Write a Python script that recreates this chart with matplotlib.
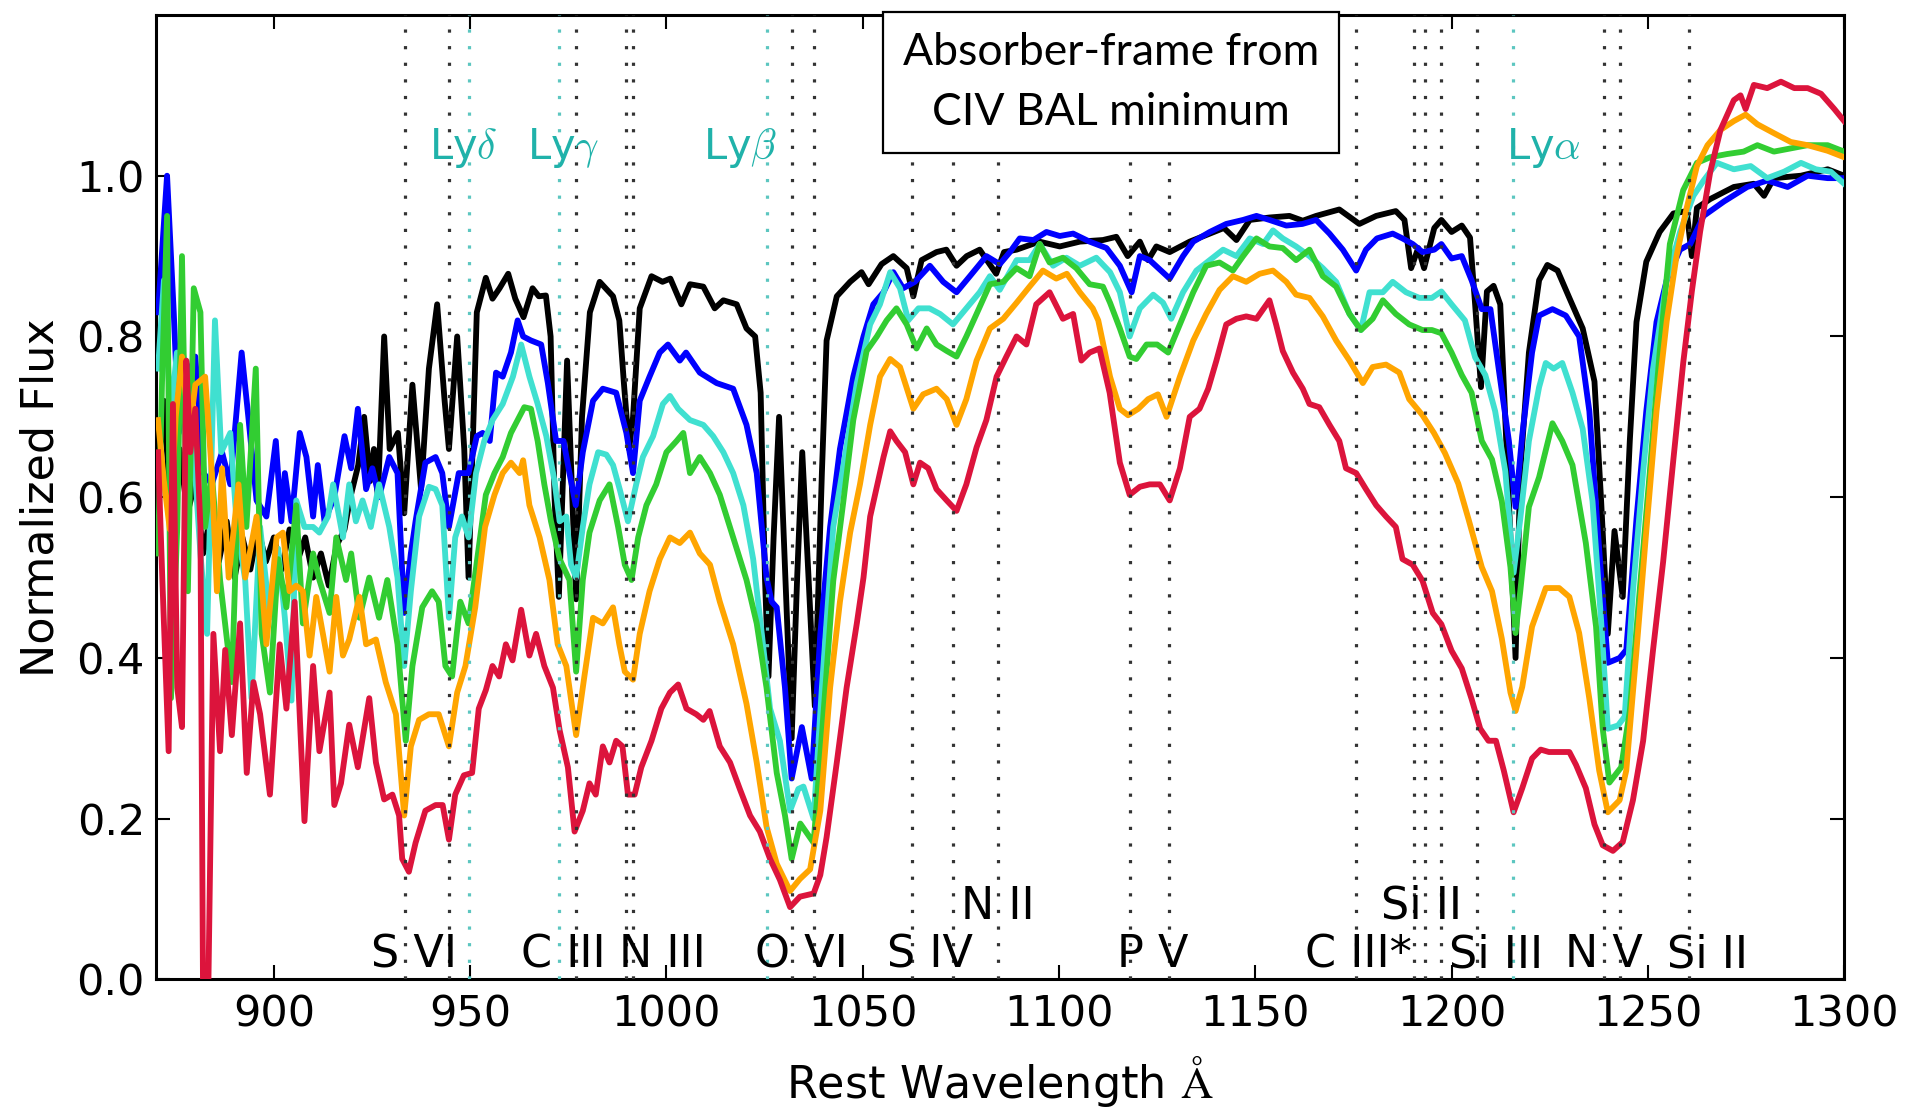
import matplotlib
matplotlib.use('Agg')
import matplotlib.pyplot as plt

# ---------------- data ----------------
wave_black = [870, 872, 874, 876, 878, 880, 882, 884, 886, 888, 890, 892, 894, 896, 898, 900, 902, 904, 906, 908,
              910, 912, 914, 916, 918, 919.5, 921.5, 923, 924.5, 925.5, 926.5, 928.1, 929.5, 931.6, 933.2, 935.3,
              937.5, 939.5, 941.6, 943.5, 944.6, 946.7, 948.5, 949.6, 951.7, 954, 955.7, 957.5, 959.7, 961.5, 963.6,
              965.9, 967.5, 969.3, 970.5, 971.5, 972.6, 974.7, 977.0, 978.5, 980.5, 983.0, 984.5, 986.4, 988, 989.2,
              990.5, 991.5, 993.2, 996.2, 999, 1001, 1003.8, 1006, 1009.4, 1012.3, 1014.5, 1017.9, 1020.4, 1022.6,
              1024, 1025.1, 1026, 1027.3, 1028.7, 1030.3, 1031.9, 1033.3, 1034.6, 1036.2, 1037.8, 1039.6, 1040.8,
              1043.4, 1046.8, 1049.7, 1051.5, 1054.8, 1057.8, 1061.2, 1062.9, 1065, 1068.8, 1071.3, 1073.9, 1076.5,
              1079.8, 1084, 1086, 1089.2, 1095, 1100.2, 1105.3, 1111.2, 1114.6, 1117.5, 1120.6, 1122.7, 1124.8,
              1128.2, 1133.3, 1138.4, 1142, 1145.2, 1148.6, 1153.6, 1158.7, 1162.1, 1165.5, 1171.4, 1176.5, 1180.8,
              1185.8, 1188, 1189.7, 1191.5, 1193, 1195.6, 1197.4, 1200, 1202.6, 1204.7, 1206, 1207.5, 1209, 1210.7,
              1212.4, 1214.6, 1216.3, 1217.5, 1219.7, 1222.3, 1224.4, 1227, 1230, 1233.4, 1236.4, 1238.1, 1239.8,
              1241.5, 1243.6, 1245.4, 1247.1, 1249.6, 1253, 1256.5, 1259.9, 1261.2, 1262.5, 1265.9, 1271.9, 1277,
              1279.6, 1282.1, 1289, 1295.8, 1300]
flux_black = [0.60, 0.72, 0.56, 0.66, 0.58, 0.62, 0.53, 0.58, 0.52, 0.57, 0.50, 0.55, 0.51, 0.56, 0.52, 0.55, 0.51,
              0.56, 0.52, 0.55, 0.50, 0.53, 0.49, 0.54, 0.56, 0.60, 0.64, 0.70, 0.62, 0.66, 0.60, 0.80, 0.66, 0.68,
              0.58, 0.74, 0.61, 0.76, 0.84, 0.72, 0.66, 0.80, 0.66, 0.50, 0.83, 0.873, 0.847, 0.86, 0.878, 0.847,
              0.824, 0.86, 0.85, 0.851, 0.80, 0.60, 0.476, 0.77, 0.473, 0.70, 0.83, 0.868, 0.86, 0.85, 0.82, 0.74,
              0.66, 0.70, 0.835, 0.875, 0.868, 0.872, 0.84, 0.865, 0.862, 0.835, 0.845, 0.84, 0.81, 0.80, 0.73, 0.50,
              0.377, 0.55, 0.70, 0.50, 0.30, 0.50, 0.656, 0.50, 0.34, 0.63, 0.795, 0.85, 0.868, 0.88, 0.865, 0.89,
              0.90, 0.885, 0.85, 0.895, 0.905, 0.908, 0.888, 0.90, 0.908, 0.878, 0.905, 0.908, 0.918, 0.912, 0.918,
              0.92, 0.924, 0.90, 0.918, 0.895, 0.912, 0.905, 0.918, 0.928, 0.935, 0.92, 0.945, 0.948, 0.95, 0.944,
              0.95, 0.958, 0.94, 0.95, 0.956, 0.945, 0.885, 0.91, 0.885, 0.935, 0.945, 0.93, 0.938, 0.923, 0.84,
              0.737, 0.856, 0.863, 0.84, 0.595, 0.40, 0.632, 0.78, 0.87, 0.889, 0.882, 0.848, 0.81, 0.744, 0.595,
              0.43, 0.558, 0.476, 0.67, 0.818, 0.893, 0.93, 0.953, 0.956, 0.90, 0.96, 0.971, 0.986, 0.99, 0.975,
              0.997, 1.0, 1.008, 1.0]

wave_blue = [870.5, 872.8, 874.5, 875.8, 877.9, 880, 882.1, 884.2, 886.8, 888.9, 891.8, 893.5, 895.6, 898.1, 900.5,
             901.9, 902.8, 904.5, 906.6, 908.3, 910, 911.2, 912.9, 915.4, 918, 919.7, 921.4, 923.5, 925.1, 926.8,
             929.4, 931.5, 933.2, 934.9, 936.1, 938.6, 941.2, 942.9, 944.6, 947.1, 949.6, 951.7, 953.2, 955, 956.6,
             958.3, 960.4, 962.1, 963.5, 965.5, 968.1, 969.8, 971.9, 973.8, 975.3, 976.9, 978.7, 981.3, 983.8,
             987.2, 989.8, 991.5, 993.2, 995.7, 998.3, 1000.4, 1003.4, 1005, 1008.5, 1012.8, 1017, 1020.4, 1023,
             1025.5, 1026.8, 1028.1, 1030.2, 1031.9, 1034.5, 1037, 1039.2, 1041.7, 1044.2, 1047.6, 1050.2, 1052.7,
             1055.3, 1057.8, 1060.3, 1063.3, 1067.1, 1070.5, 1073.9, 1077.3, 1081.5, 1084.9, 1087.5, 1090, 1093.5,
             1096.8, 1100.2, 1103.6, 1107.8, 1112.1, 1115.5, 1118.5, 1120.6, 1123.1, 1125.3, 1128.2, 1131.6, 1134.2,
             1138.4, 1142.6, 1146.9, 1150.3, 1153.6, 1157.9, 1162, 1165.5, 1168.9, 1172.3, 1175.7, 1178.2, 1181,
             1185, 1187.5, 1190.1, 1192.6, 1195.6, 1197.4, 1200, 1202.6, 1205.1, 1207.7, 1209.9, 1212, 1214.6,
             1216.3, 1218, 1220.5, 1222.3, 1225.7, 1229.1, 1232.5, 1235.1, 1237.6, 1239.8, 1242.8, 1244.5, 1247.1,
             1249.6, 1252.2, 1254.8, 1258.2, 1260.8, 1264.2, 1269.4, 1275.3, 1280.4, 1285.6, 1290.7, 1295.8, 1300]
flux_blue = [0.83, 1.0, 0.83, 0.68, 0.75, 0.775, 0.63, 0.616, 0.656, 0.616, 0.78, 0.70, 0.596, 0.576, 0.67, 0.57,
             0.63, 0.57, 0.68, 0.65, 0.576, 0.64, 0.57, 0.60, 0.676, 0.636, 0.71, 0.61, 0.636, 0.60, 0.65, 0.63,
             0.456, 0.53, 0.57, 0.643, 0.65, 0.63, 0.563, 0.63, 0.63, 0.676, 0.68, 0.67, 0.755, 0.75, 0.78, 0.82,
             0.80, 0.795, 0.79, 0.742, 0.67, 0.67, 0.63, 0.59, 0.656, 0.72, 0.735, 0.73, 0.68, 0.63, 0.72, 0.75,
             0.78, 0.79, 0.77, 0.78, 0.755, 0.742, 0.735, 0.69, 0.63, 0.50, 0.47, 0.463, 0.363, 0.25, 0.314, 0.25,
             0.43, 0.563, 0.66, 0.75, 0.80, 0.84, 0.855, 0.88, 0.86, 0.868, 0.888, 0.868, 0.855, 0.875, 0.90, 0.89,
             0.905, 0.922, 0.92, 0.93, 0.925, 0.928, 0.918, 0.91, 0.888, 0.855, 0.90, 0.895, 0.885, 0.872, 0.90,
             0.918, 0.93, 0.94, 0.945, 0.95, 0.945, 0.938, 0.94, 0.945, 0.928, 0.908, 0.882, 0.908, 0.922, 0.928,
             0.922, 0.915, 0.905, 0.908, 0.915, 0.897, 0.90, 0.87, 0.834, 0.834, 0.76, 0.67, 0.588, 0.677, 0.78,
             0.826, 0.834, 0.826, 0.80, 0.707, 0.535, 0.394, 0.40, 0.41, 0.573, 0.707, 0.818, 0.87, 0.908, 0.915,
             0.95, 0.968, 0.986, 0.994, 0.986, 1.0, 0.997, 0.997]

wave_turq = [870.5, 872, 873.7, 875.3, 877, 879, 881.3, 883, 885, 886.6, 888.9, 890.6, 892.7, 894.3, 896.5, 899,
             901.1, 902.8, 904.5, 905.7, 907.8, 910, 911.6, 913.8, 915.1, 917.6, 919.2, 920.9, 922.6, 924.7, 926.8,
             929.4, 931.5, 933.2, 934.9, 937, 939.5, 941.2, 942.9, 944.6, 946.2, 947.9, 949.6, 951.5, 953.6, 955.7,
             958.3, 960.9, 963, 965.1, 967.2, 969.4, 971.5, 972.8, 974.5, 975.7, 977, 978.7, 980.4, 982.6, 984.7,
             986.4, 988.1, 990.2, 992.3, 994, 996.6, 999.1, 1000.9, 1003, 1006, 1009.4, 1011.9, 1014.5, 1017,
             1019.6, 1022.1, 1024.3, 1026.4, 1028.9, 1031.5, 1033.6, 1034.9, 1037.5, 1039.6, 1042.5, 1045.1, 1048.5,
             1051.9, 1054.4, 1057, 1059.5, 1061.6, 1064.2, 1067, 1069.7, 1073, 1076.4, 1079.8, 1082.4, 1084.9,
             1089.2, 1092.5, 1095.1, 1098.5, 1101.9, 1105.3, 1109.5, 1113, 1115.5, 1118, 1120.6, 1124, 1126.5,
             1128.6, 1131.6, 1135, 1138.4, 1141.8, 1145.2, 1148.6, 1152, 1154.5, 1157, 1160.4, 1163.8, 1167.2,
             1170.6, 1174, 1176.9, 1179.1, 1182.5, 1185, 1188.4, 1191.8, 1195, 1197.4, 1200, 1203.4, 1206, 1208.6,
             1211.1, 1213.7, 1215.8, 1217.5, 1219.7, 1222.3, 1224, 1226, 1228.2, 1230.8, 1233.4, 1235.9, 1238.1,
             1239.8, 1242.4, 1244.1, 1246.2, 1248.8, 1251.3, 1254.8, 1258.2, 1261.6, 1264.2, 1267.6, 1271.9,
             1276.2, 1280.4, 1284.7, 1289, 1292.8, 1296.6, 1300]
flux_turq = [0.76, 0.87, 0.70, 0.78, 0.775, 0.70, 0.53, 0.43, 0.82, 0.656, 0.68, 0.563, 0.497, 0.35, 0.563, 0.45,
             0.536, 0.45, 0.347, 0.596, 0.563, 0.563, 0.556, 0.576, 0.616, 0.55, 0.616, 0.57, 0.596, 0.563, 0.616,
             0.563, 0.50, 0.39, 0.483, 0.576, 0.613, 0.61, 0.59, 0.45, 0.55, 0.576, 0.55, 0.63, 0.67, 0.696, 0.716,
             0.75, 0.79, 0.75, 0.716, 0.676, 0.62, 0.57, 0.576, 0.516, 0.50, 0.563, 0.616, 0.656, 0.653, 0.64, 0.61,
             0.57, 0.616, 0.65, 0.676, 0.716, 0.726, 0.71, 0.696, 0.69, 0.676, 0.656, 0.63, 0.59, 0.523, 0.43, 0.337,
             0.297, 0.21, 0.237, 0.24, 0.20, 0.363, 0.563, 0.64, 0.742, 0.815, 0.84, 0.88, 0.86, 0.82, 0.835, 0.835,
             0.828, 0.815, 0.835, 0.855, 0.875, 0.858, 0.895, 0.895, 0.915, 0.888, 0.898, 0.888, 0.898, 0.88, 0.855,
             0.80, 0.835, 0.852, 0.842, 0.822, 0.855, 0.882, 0.895, 0.908, 0.90, 0.922, 0.915, 0.932, 0.922, 0.912,
             0.90, 0.885, 0.868, 0.828, 0.808, 0.855, 0.855, 0.868, 0.855, 0.848, 0.848, 0.856, 0.84, 0.82, 0.774,
             0.752, 0.707, 0.632, 0.506, 0.573, 0.67, 0.737, 0.767, 0.76, 0.767, 0.73, 0.685, 0.595, 0.446, 0.312,
             0.316, 0.327, 0.483, 0.632, 0.759, 0.87, 0.93, 0.975, 0.994, 1.016, 1.008, 1.012, 0.997, 1.005, 1.016,
             1.008, 1.005, 0.99]

wave_green = [870.5, 871.6, 872.8, 873.8, 875.4, 876.6, 878.1, 879.6, 881.3, 882.5, 884.2, 886.3, 889.3, 891.4,
              893, 895.4, 896.9, 899, 901.1, 903.2, 905.7, 907.4, 910, 911.6, 914.2, 915.9, 918.4, 919.7, 921.8,
              924.3, 926.8, 928.9, 931.5, 933.6, 935.3, 937.8, 940.3, 942, 943.7, 945.4, 947.5, 949.6, 952, 954,
              956.2, 958.3, 960.4, 962.1, 963.8, 965.5, 967.2, 968.9, 970.6, 972.8, 975.3, 977, 978.7, 980.4, 983,
              985.5, 987.7, 989.4, 991.1, 992.8, 994.9, 997.4, 1000, 1002.6, 1004.3, 1006, 1008.5, 1011.1, 1013.6,
              1017, 1020.4, 1023, 1025.5, 1028.1, 1030.2, 1031.9, 1034.1, 1037.5, 1040, 1042.5, 1045.1, 1047.6,
              1051, 1053.6, 1056.1, 1058.6, 1061.2, 1063.7, 1066.3, 1068.8, 1071.4, 1073.9, 1076.4, 1079, 1082.4,
              1085.8, 1089.2, 1092.5, 1095.1, 1097.6, 1101, 1104.4, 1107.8, 1111.2, 1113, 1115.5, 1118, 1119.7,
              1122.3, 1125, 1127.8, 1130.8, 1134.2, 1137.5, 1140.9, 1144.3, 1146.9, 1150.3, 1153.6, 1157, 1160.4,
              1163.8, 1167.2, 1170.6, 1174, 1176.9, 1179.9, 1182.5, 1185.8, 1189.2, 1192.6, 1195, 1197.4, 1200,
              1202.6, 1205.1, 1207.7, 1210.3, 1212.8, 1215, 1216.3, 1217.5, 1219.7, 1222.3, 1225.7, 1228.2, 1230.8,
              1234.2, 1236.8, 1238.5, 1240.2, 1243.2, 1245.4, 1247.9, 1250.5, 1253, 1255.6, 1259, 1262.5, 1265.9,
              1270.2, 1274.4, 1277.9, 1282.1, 1286.4, 1290.7, 1295.8, 1300]
flux_green = [0.53, 0.76, 0.95, 0.35, 0.563, 0.90, 0.483, 0.86, 0.83, 0.563, 0.63, 0.497, 0.37, 0.69, 0.563, 0.76,
              0.43, 0.357, 0.523, 0.463, 0.59, 0.443, 0.53, 0.497, 0.456, 0.55, 0.497, 0.53, 0.45, 0.50, 0.45, 0.497,
              0.417, 0.297, 0.39, 0.463, 0.483, 0.47, 0.39, 0.377, 0.47, 0.443, 0.53, 0.603, 0.63, 0.65, 0.68, 0.696,
              0.712, 0.71, 0.67, 0.616, 0.57, 0.523, 0.497, 0.383, 0.497, 0.556, 0.596, 0.616, 0.563, 0.516, 0.497,
              0.55, 0.59, 0.616, 0.656, 0.67, 0.68, 0.63, 0.65, 0.63, 0.603, 0.55, 0.497, 0.443, 0.363, 0.257, 0.204,
              0.15, 0.194, 0.17, 0.33, 0.496, 0.596, 0.696, 0.782, 0.80, 0.82, 0.835, 0.815, 0.785, 0.81, 0.79, 0.782,
              0.775, 0.80, 0.828, 0.865, 0.868, 0.885, 0.875, 0.915, 0.892, 0.898, 0.885, 0.865, 0.862, 0.842, 0.81,
              0.775, 0.772, 0.79, 0.79, 0.78, 0.815, 0.855, 0.888, 0.892, 0.882, 0.90, 0.922, 0.912, 0.91, 0.895,
              0.908, 0.875, 0.862, 0.828, 0.808, 0.822, 0.845, 0.828, 0.815, 0.808, 0.808, 0.804, 0.78, 0.752, 0.73,
              0.67, 0.647, 0.595, 0.513, 0.431, 0.483, 0.588, 0.625, 0.692, 0.67, 0.64, 0.543, 0.439, 0.312, 0.245,
              0.264, 0.334, 0.483, 0.632, 0.78, 0.915, 0.982, 1.016, 1.023, 1.027, 1.03, 1.038, 1.03, 1.034, 1.038,
              1.038, 1.03]

wave_orange = [870.5, 872, 873.5, 875, 876.6, 878.5, 880, 882.5, 884.2, 885.5, 886.8, 888.5, 891, 892.7, 895.6,
               898.1, 900.7, 902.3, 904, 905.7, 907.4, 909.1, 910.8, 912.5, 914.2, 915.9, 917.6, 919.2, 921.8,
               923.5, 926, 928.5, 931.1, 933.2, 934.9, 937, 939.5, 942, 944.6, 946.7, 948.8, 951.3, 953.8, 956.2,
               958.3, 960.4, 962.6, 963.5, 965.1, 967.7, 970.2, 972.3, 974.5, 977, 979.1, 981.3, 983.8, 986.4, 988,
               989.4, 991.5, 993.2, 995.7, 998.3, 1000.9, 1003.4, 1006, 1008.5, 1011.1, 1013.6, 1017, 1020.4, 1023,
               1025.5, 1028.1, 1031.5, 1034, 1036.6, 1039.2, 1041.7, 1044.2, 1046.8, 1049.3, 1051.9, 1054.4, 1057,
               1059.5, 1062.9, 1065.4, 1068.8, 1071.4, 1073.9, 1076.4, 1079, 1082.4, 1085.8, 1089.2, 1092.5, 1095.9,
               1099.3, 1102, 1105.3, 1108.6, 1110, 1113, 1115.5, 1117.6, 1120.2, 1122.7, 1125.2, 1127.4, 1130.8,
               1134.2, 1137.5, 1140.9, 1144.3, 1147.7, 1151.1, 1154.5, 1157.9, 1160.4, 1163.8, 1167.2, 1170.6, 1174,
               1177.4, 1179.9, 1183.3, 1186.7, 1189.2, 1192.6, 1195.5, 1198.3, 1201.7, 1204.3, 1207.7, 1210.3,
               1212.8, 1215, 1216.3, 1218, 1220.5, 1224, 1227.4, 1230, 1232.5, 1235.1, 1237.6, 1239.8, 1242.8,
               1244.5, 1247.1, 1249.6, 1252.2, 1254.8, 1257.3, 1259.9, 1262.5, 1265.2, 1268.5, 1271.9, 1274.9,
               1277.9, 1282.1, 1286.4, 1290.7, 1295.8, 1300]
flux_orange = [0.696, 0.62, 0.56, 0.70, 0.775, 0.68, 0.74, 0.75, 0.63, 0.483, 0.636, 0.50, 0.616, 0.50, 0.576, 0.417,
               0.55, 0.556, 0.483, 0.49, 0.483, 0.403, 0.476, 0.43, 0.383, 0.476, 0.403, 0.423, 0.476, 0.417, 0.423,
               0.37, 0.33, 0.204, 0.29, 0.323, 0.33, 0.33, 0.29, 0.357, 0.39, 0.463, 0.563, 0.603, 0.63, 0.643, 0.63,
               0.646, 0.59, 0.55, 0.497, 0.417, 0.39, 0.304, 0.377, 0.45, 0.443, 0.463, 0.417, 0.383, 0.373, 0.43,
               0.483, 0.523, 0.55, 0.543, 0.556, 0.53, 0.516, 0.47, 0.417, 0.343, 0.27, 0.19, 0.144, 0.11, 0.125,
               0.137, 0.21, 0.363, 0.47, 0.556, 0.616, 0.69, 0.75, 0.772, 0.762, 0.71, 0.728, 0.735, 0.722, 0.69,
               0.722, 0.77, 0.81, 0.822, 0.842, 0.862, 0.882, 0.872, 0.878, 0.855, 0.835, 0.82, 0.75, 0.71, 0.702,
               0.71, 0.722, 0.728, 0.70, 0.75, 0.795, 0.828, 0.858, 0.875, 0.868, 0.878, 0.882, 0.868, 0.852, 0.848,
               0.825, 0.795, 0.77, 0.742, 0.762, 0.765, 0.755, 0.722, 0.702, 0.68, 0.655, 0.617, 0.573, 0.513, 0.483,
               0.424, 0.357, 0.334, 0.364, 0.439, 0.487, 0.487, 0.476, 0.431, 0.349, 0.26, 0.208, 0.223, 0.26, 0.409,
               0.558, 0.707, 0.819, 0.90, 0.96, 1.012, 1.038, 1.057, 1.068, 1.076, 1.064, 1.053, 1.042, 1.038, 1.031,
               1.023]

wave_red = [870.5, 871.6, 873.2, 874.3, 875.4, 876.6, 877.7, 878.7, 880, 881.3, 882.0, 883.2, 884.6, 886.3, 887.6,
            889.3, 891.4, 893.1, 894.8, 896.5, 899, 901.5, 903.2, 905.3, 907.8, 910, 911.6, 914.2, 915.4, 917.1,
            919.2, 921.4, 924.3, 926, 928.1, 930.2, 931.9, 932.7, 934.4, 936.1, 938.6, 941.2, 943, 944.6, 946.2,
            948.4, 950.5, 952.2, 954, 955.7, 957.4, 959.1, 960.8, 963, 965.1, 966.8, 968.9, 971.1, 972.8, 974.9,
            976.6, 978.7, 980.4, 982, 983.8, 985.5, 987.2, 988.8, 990.2, 991.9, 993.6, 996.2, 998.7, 1000.9, 1003,
            1005.1, 1007.6, 1009.4, 1011, 1013.6, 1016.2, 1018.7, 1021.3, 1023.8, 1026.4, 1028.9, 1031.5, 1034,
            1037.5, 1039.2, 1040.8, 1043.4, 1045.9, 1048.5, 1050.2, 1051.9, 1053.6, 1055.3, 1057, 1058.6, 1060.8,
            1062.9, 1064.6, 1066.7, 1068.8, 1071.4, 1073.9, 1076.4, 1079, 1081.5, 1084.1, 1086.6, 1089.2, 1091.7,
            1094.2, 1097.6, 1101, 1103.6, 1105.7, 1107.8, 1110.3, 1112.9, 1115.5, 1118, 1120.6, 1123.1, 1125.7,
            1128.2, 1130.8, 1133.3, 1135.8, 1138, 1140.1, 1142.6, 1145.2, 1147.7, 1150.3, 1153.6, 1155.3, 1157,
            1159.6, 1162.1, 1163.8, 1166.3, 1168.9, 1171.4, 1173.1, 1175.7, 1178.2, 1180.8, 1183.3, 1185.8, 1187.5,
            1190.1, 1192.6, 1195.2, 1197.4, 1200, 1202.6, 1205.1, 1207.3, 1209.4, 1211.3, 1213.3, 1215.8, 1218,
            1220.5, 1222.7, 1224.8, 1227.4, 1230, 1231.7, 1234.2, 1236.4, 1238.5, 1241.1, 1243.6, 1246.2, 1248.8,
            1251.3, 1253.9, 1256.5, 1259, 1261.2, 1263.3, 1265.9, 1268.5, 1271.9, 1273.6, 1274.9, 1277, 1280.4,
            1283.9, 1287.3, 1290.7, 1294.1, 1297.5, 1300]
flux_red = [0.656, 0.497, 0.284, 0.716, 0.363, 0.314, 0.77, 0.656, 0.71, 0.563, -0.05, -0.05, 0.43, 0.284, 0.41,
            0.304, 0.443, 0.257, 0.37, 0.33, 0.23, 0.417, 0.337, 0.47, 0.197, 0.39, 0.284, 0.357, 0.217, 0.244,
            0.317, 0.264, 0.35, 0.27, 0.224, 0.23, 0.204, 0.15, 0.134, 0.17, 0.21, 0.217, 0.217, 0.174, 0.23, 0.254,
            0.257, 0.337, 0.36, 0.39, 0.377, 0.417, 0.397, 0.46, 0.403, 0.43, 0.39, 0.363, 0.31, 0.264, 0.184,
            0.21, 0.244, 0.23, 0.29, 0.27, 0.297, 0.29, 0.23, 0.23, 0.264, 0.297, 0.337, 0.357, 0.367, 0.337, 0.33,
            0.323, 0.334, 0.29, 0.27, 0.237, 0.204, 0.184, 0.15, 0.124, 0.09, 0.103, 0.107, 0.13, 0.177, 0.27,
            0.363, 0.443, 0.50, 0.576, 0.613, 0.65, 0.682, 0.67, 0.656, 0.616, 0.643, 0.636, 0.61, 0.596, 0.583,
            0.616, 0.662, 0.696, 0.75, 0.775, 0.80, 0.79, 0.84, 0.855, 0.822, 0.828, 0.77, 0.78, 0.785, 0.73,
            0.643, 0.603, 0.613, 0.616, 0.616, 0.596, 0.636, 0.70, 0.71, 0.735, 0.77, 0.815, 0.822, 0.825, 0.822,
            0.845, 0.815, 0.782, 0.755, 0.735, 0.716, 0.712, 0.69, 0.67, 0.636, 0.63, 0.61, 0.59, 0.576, 0.563,
            0.523, 0.516, 0.496, 0.456, 0.442, 0.409, 0.387, 0.349, 0.312, 0.297, 0.297, 0.26, 0.208, 0.238, 0.275,
            0.286, 0.283, 0.283, 0.283, 0.267, 0.238, 0.193, 0.167, 0.16, 0.171, 0.223, 0.297, 0.409, 0.52, 0.647,
            0.767, 0.856, 0.93, 1.005, 1.057, 1.094, 1.10, 1.083, 1.113, 1.109, 1.117, 1.109, 1.109, 1.102, 1.083,
            1.068]

metal_lines = [933.38, 944.52, 977.02, 989.80, 991.51, 1031.93, 1037.62, 1062.66, 1072.97, 1084.5, 1117.98,
               1128.01, 1175.7, 1190.42, 1193.29, 1197.39, 1206.5, 1238.82, 1242.80, 1260.42]
lyman_lines = [949.74, 972.54, 1025.72, 1215.67]

ion_labels = ['S VI', 'C III', 'N III', 'O VI', 'S IV', 'N II', 'P V', 'C III*', 'Si II', 'Si III', 'N V', 'Si II']
ion_label_x = [935.8, 973.8, 999.0, 1034.3, 1067.2, 1084.3, 1123.8, 1176.4, 1192.3, 1211.4, 1238.9, 1265.1]
ion_label_y = [0.031, 0.031, 0.031, 0.031, 0.031, 0.091, 0.031, 0.031, 0.091, 0.031, 0.031, 0.031]

lyman_labels = [r'Ly$\delta$', r'Ly$\gamma$', r'Ly$\beta$', r'Ly$\alpha$']
lyman_label_x = [948.2, 973.8, 1018.7, 1223.3]

series = [(wave_black, flux_black, 'black'),
          (wave_blue, flux_blue, '#0000FF'),
          (wave_turq, flux_turq, '#40E0D0'),
          (wave_green, flux_green, '#32CD32'),
          (wave_orange, flux_orange, '#FFA500'),
          (wave_red, flux_red, '#DC143C')]

# ---------------- figure ----------------
plt.rcParams['font.family'] = ['DejaVu Sans']
plt.rcParams['mathtext.fontset'] = 'cm'

fig = plt.figure(figsize=(19.15, 11.09), dpi=100)
ax = fig.add_axes([0.0815, 0.1168, 0.8815, 0.8697])

for w, f, c in series:
    ax.plot(w, f, color=c, lw=4.2, solid_joinstyle='round', zorder=3)

for w in metal_lines:
    ax.axvline(w, color='#333333', ls=(0, (1, 4.2)), lw=2.3, zorder=4)
for w in lyman_lines:
    ax.axvline(w, color='#5CC6C0', ls=(0, (1, 4.2)), lw=2.3, zorder=4)

for t, x, y in zip(ion_labels, ion_label_x, ion_label_y):
    ax.text(x, y, t, fontsize=32, ha='center', va='center', color='black', zorder=6)

for t, x in zip(lyman_labels, lyman_label_x):
    ax.text(x, 1.035, t, fontsize=30, ha='center', va='center', color='#20B2AA', zorder=6)

ax.text(1113.3, 1.116, 'Absorber-frame from\nCIV BAL minimum', fontsize=32, family='Lato',
        ha='center', va='center', linespacing=1.55, zorder=7,
        bbox=dict(boxstyle='square,pad=0.45', fc='white', ec='black', lw=1.6))

ax.set_xlim(870, 1300)
ax.set_ylim(0, 1.2)
ax.set_xticks([900, 950, 1000, 1050, 1100, 1150, 1200, 1250, 1300])
ax.set_yticks([0.0, 0.2, 0.4, 0.6, 0.8, 1.0])
ax.set_yticklabels(['0.0', '0.2', '0.4', '0.6', '0.8', '1.0'])
ax.tick_params(axis='both', which='major', direction='in', length=10, width=1.5,
               top=True, right=True, labelsize=31)
ax.tick_params(axis='x', pad=10)
ax.tick_params(axis='y', pad=8)
for s in ax.spines.values():
    s.set_linewidth(2.2)

ax.set_xlabel(r'Rest Wavelength $\mathrm{\AA}$', fontsize=32, labelpad=13)
ax.set_ylabel('Normalized Flux', fontsize=32, labelpad=10)

fig.savefig('out.png', dpi=100)
